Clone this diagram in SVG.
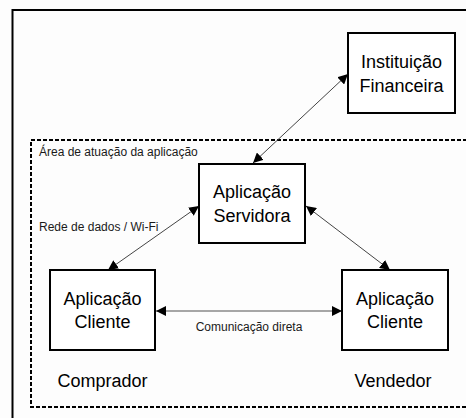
<svg xmlns="http://www.w3.org/2000/svg" width="466" height="418" viewBox="0 0 466 418">
  <style>
    .box { fill: #ffffff; stroke: #000000; stroke-width: 2; }
    .label { font-family: "Liberation Sans", Arial, sans-serif; font-size: 18px; fill: #000000; text-anchor: middle; }
    .small { font-family: "Liberation Sans", Arial, sans-serif; font-size: 12px; fill: #1a1a1a; }
    .link { stroke: #444444; stroke-width: 1; fill: none; }
    .direct { stroke: #888888; stroke-width: 1.5; fill: none; }
  </style>
  <defs>
    <marker id="head" viewBox="0 0 10 10" refX="10" refY="5" markerWidth="10" markerHeight="10" markerUnits="userSpaceOnUse" orient="auto-start-reverse">
      <path d="M0,0 L10,5 L0,10 Z" fill="#000000"/>
    </marker>
  </defs>

  <rect width="466" height="418" fill="#fdfdfd"/>

  <!-- outer frame and application area -->
  <rect x="12.5" y="10" width="470" height="420" fill="none" stroke="#000000" stroke-width="2"/>
  <rect x="31" y="140" width="450" height="267" fill="none" stroke="#000000" stroke-width="2" stroke-dasharray="4,2"/>
  <text class="small" x="39" y="156">Área de atuação da aplicação</text>
  <text class="small" x="39" y="231">Rede de dados / Wi-Fi</text>

  <g id="connectors">
    <line class="link" x1="253" y1="163" x2="348" y2="74" marker-start="url(#head)" marker-end="url(#head)"/>
    <line class="link" x1="108" y1="270" x2="199" y2="206" marker-start="url(#head)" marker-end="url(#head)"/>
    <line class="link" x1="306" y1="206" x2="390" y2="270" marker-start="url(#head)" marker-end="url(#head)"/>
    <line class="direct" x1="156" y1="311" x2="342" y2="311" marker-start="url(#head)" marker-end="url(#head)"/>
    <text class="small" x="249" y="331" text-anchor="middle" fill="#333333">Comunicação direta</text>
  </g>

  <g id="instituicao">
    <rect class="box" x="348" y="33" width="107" height="80"/>
    <text class="label" x="401.5" y="68">Instituição</text>
    <text class="label" x="401.5" y="92">Financeira</text>
  </g>

  <g id="servidora">
    <rect class="box" x="199" y="164" width="106" height="79"/>
    <text class="label" x="252" y="198">Aplicação</text>
    <text class="label" x="252" y="222">Servidora</text>
  </g>

  <g id="cliente-comprador">
    <rect class="box" x="50" y="270" width="105" height="80"/>
    <text class="label" x="102.5" y="305">Aplicação</text>
    <text class="label" x="102.5" y="328">Cliente</text>
    <text class="label" x="102.5" y="387">Comprador</text>
  </g>

  <g id="cliente-vendedor">
    <rect class="box" x="342" y="270" width="106" height="80"/>
    <text class="label" x="395" y="305">Aplicação</text>
    <text class="label" x="395" y="328">Cliente</text>
    <text class="label" x="393" y="387">Vendedor</text>
  </g>
</svg>
